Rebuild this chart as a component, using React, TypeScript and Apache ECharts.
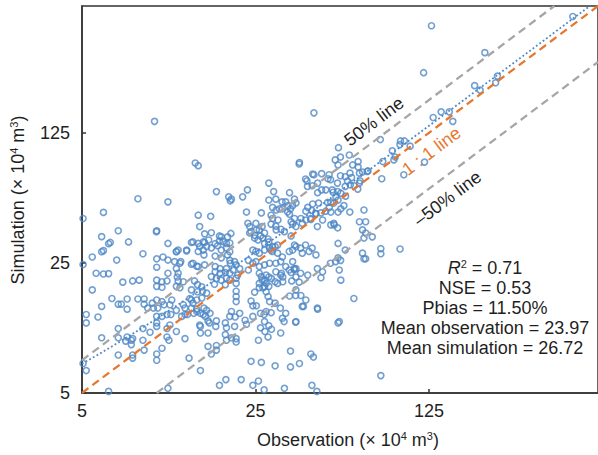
import React, { useEffect, useRef } from "react";
import * as echarts from "echarts";

// ---- data (observation, simulation) in 10^4 m^3 ----
const upperPoints: [number, number][] = [
  [9.8, 144], [128, 470], [119, 263], [210, 337], [475, 527], [191, 224], [201, 212], [236, 252], [232, 232],
  [130, 151], [140, 162], [151, 162], [156, 144], [96, 113], [99.5, 113], [105, 106], [43, 160], [79.6, 115],
  [95.5, 108], [89, 100], [91.4, 92.6], [90.3, 89.4], [81.5, 87.6], [71, 78], [80.7, 70.8], [99, 74.4], [120, 87],
  [54, 104], [59.7, 95], [55, 92.6], [52.4, 89.4], [61.6, 84], [64.8, 87.6], [64.8, 81.8], [60.1, 75.9],
  [57.5, 72.6], [55, 73.5], [61, 71.9], [66, 69], [67.5, 77], [50.2, 70], [49, 70.8], [43, 74.4], [39.8, 70.6],
  [37.6, 86.6], [42.3, 64.9], [40.5, 64.4], [46.2, 61.7], [51, 61.7], [53.6, 60.4], [57.5, 64.4], [62.5, 64.9],
  [53.8, 84], [37.5, 85], [65.6, 75.9], [70.5, 77.5], [42.5, 75], [46.2, 75.4], [49.5, 74.4], [28.3, 67.1],
  [40.3, 69], [44.5, 67.1], [53.5, 67.1], [58.7, 68.8], [60.3, 65.7], [65.6, 67.1], [64.6, 62.3], [23.2, 61.7],
  [29.6, 60.4], [34.3, 59.6], [22.2, 56.6], [44.5, 59.6], [48, 61.7], [51.4, 59.9], [52.7, 56.6], [55.2, 59.2],
  [57.7, 57.1], [14.3, 86], [14.7, 83.2], [17.4, 60.4], [19.5, 56.6], [19.8, 53.9], [8.4, 55.3], [11.1, 53.2],
  [6.1, 46.7], [5.05, 43.3],
];

const middlePoints: [number, number][] = [
  [28.3, 54.4], [30.2, 55], [32, 53.2], [35.9, 55], [20, 55], [42.5, 51.8], [44.9, 52.4], [48.8, 52.8],
  [50.3, 52.8], [53.8, 54.4], [56.8, 50.8], [29.3, 49.7], [30.3, 48.1], [31.2, 48.8], [33.8, 50.8], [34.6, 48.8],
  [40.6, 49.7], [39.9, 47.4], [42.2, 47.8], [43.8, 46], [45.9, 46.4], [48, 47.4], [50.3, 46.9], [53.8, 46.9],
  [55.2, 48.8], [23, 46.9], [26.4, 46.4], [60, 46.9], [68.4, 48.1], [28.9, 45.1], [29.3, 43.3], [30.8, 42.5],
  [34.3, 45.6], [35.9, 43.3], [38.1, 43.3], [39.9, 42.5], [41.8, 42.8], [34.8, 41.6], [35.3, 40.4], [28.9, 40.4],
  [30.2, 39.4], [30.3, 37.6], [31.7, 37.9], [32.7, 36.8], [50.3, 40], [51.9, 40], [65.6, 41.6], [69.5, 41.6],
  [34.8, 34.9], [35.9, 31.2], [67.5, 37.6], [69.5, 36.2], [73.9, 34.5], [68.4, 34], [53.8, 31.8], [67.5, 28.2],
  [68.4, 26.3], [69.5, 26.3], [43.8, 27.6], [35.9, 23.3], [34.8, 22.2], [31.8, 22], [53.8, 26.6],
  [24, 36.8], [25.2, 37.6], [26.2, 34.9], [24.8, 34], [25.6, 33.2], [26.8, 34], [27.2, 31.8], [28.3, 32.4],
  [29.3, 30.6], [28.9, 29.3], [24.4, 29.3], [25.1, 28.8], [25.9, 28.2], [27.2, 29.3], [28.5, 30], [30, 30.6],
  [30.7, 31.2], [29.2, 28.8], [30.7, 28.2], [32.1, 26.9], [34.2, 28.8], [35.3, 29.3], [36.4, 30.6], [38, 30],
  [39.8, 31.2], [38.6, 28.2], [41.1, 28.8], [42.3, 30], [23.4, 25.8], [24.4, 24.9], [25.1, 25.4], [25.9, 23.9],
  [27.2, 24.4], [28.5, 24.9], [30.2, 24.9], [31.6, 25.4], [33.1, 23.9], [34.2, 22.9], [36.4, 23.3], [35.3, 25.4],
  [23.4, 22.9], [25.9, 22], [27.6, 21.5], [29, 20.6], [30.2, 22.4], [31.6, 21.5], [25.9, 19.4], [27.2, 18.6],
  [27.6, 17.5], [28.1, 16.5], [28.5, 15.5], [26.6, 20.2], [30.7, 19.4], [35.8, 23], [36.4, 21], [38, 22],
  [44.4, 23.3], [46.6, 22.4], [50.1, 24.9], [52.6, 25.4], [55.1, 25.8], [54.4, 22.9], [57.5, 29.3], [44.4, 39.2],
  [46.6, 42.5], [51.7, 40.8], [53.6, 38.6], [36.4, 39.2], [38.6, 40.8], [41.7, 43.3], [43.7, 46], [49.6, 49.7],
  [51.7, 52.4], [33.1, 53.2], [35.3, 50.8], [32.1, 48.8], [33.7, 46.9], [36.4, 52.4],
  [23.3, 40.8], [23.7, 39.2], [25.1, 40.8], [25.9, 37.6], [23.7, 36.2], [24.8, 35.2], [26.6, 39.2], [27.2, 36.2],
  [28.1, 33.6], [19.7, 25.8], [20.6, 25.4], [20.9, 24.4], [21.6, 23.3], [20.3, 22.9], [19.7, 22], [21.2, 21.5],
  [14.7, 45.1], [16.5, 44.5], [14.9, 39.2], [9.97, 36.8], [16.6, 36.3], [18.2, 34.5], [19.3, 34.5], [18.5, 32.6],
  [19.1, 31.8], [14, 32.4], [15.4, 32.4], [14.9, 30.6], [15.4, 29.3], [14.7, 28.8], [12, 28.8], [12.2, 29.3],
  [13.2, 29.3], [10, 26.3], [10.6, 26.9], [10, 23.7], [11.8, 25.4], [12.4, 24.9], [14, 24.9], [14.5, 24],
  [7, 37.2], [10, 37.2], [15.6, 35.8], [17.9, 34.9], [19.9, 36], [6, 34.6], [6.5, 32.2], [6.4, 31.7], [7.7, 32.4],
  [11.1, 31.8], [13.8, 32.2], [14.7, 31.8], [15.6, 32.2], [17.2, 31.7], [6, 28.7], [6.1, 29.1], [5.5, 26.9],
  [6.9, 25.9], [8.8, 28], [11.1, 25.9], [12, 28.7], [13.2, 29], [12.5, 25.4], [13.8, 24.6], [5.05, 24.5],
  [5.7, 22], [6.1, 21.8], [6.4, 21.9], [12, 23.3], [12.2, 22], [11.1, 22], [14.7, 23.9], [15.6, 24.4],
  [17.2, 23.9], [18, 23.3], [19.1, 23.3], [19.8, 24.9], [17.2, 22.4], [18, 22], [18.9, 22.2], [15.9, 30.6],
  [16.6, 30.1], [17.6, 30.9], [18.2, 29.3], [19.1, 30.1], [19.7, 28.7], [15.5, 27.6], [17.2, 27.2], [18.2, 26.6],
  [19.3, 27.6], [16.2, 33.2], [17.9, 32.8], [19.7, 32], [80, 29.8], [80, 28], [95.6, 29.7],
];

const lowerPoints: [number, number][] = [
  [36.4, 17.9], [38.6, 14.6], [44.4, 14.3], [54.4, 12.1], [36.4, 12.1], [30, 15.2], [31.5, 14.3], [33.1, 13.4],
  [32.1, 12.6], [32.6, 12.1], [27.6, 13.7], [26.2, 13.4], [27.2, 12.1], [21.6, 13.4], [22.7, 12.3], [24.4, 12.9],
  [19.7, 12.9], [20.6, 11.4], [16.3, 11.9], [17.3, 11.4], [14.9, 11.6], [11.3, 11.6], [10, 11.4], [10, 12.9],
  [13.6, 16.1], [14, 15.2], [13.8, 14.3], [12.8, 14.9], [13, 13.2], [14.5, 13.7], [15.4, 13.2], [15.9, 13.9],
  [5.5, 17.9], [7.3, 19.7], [8, 20], [8.5, 20.2], [10, 20.2], [10.5, 19.8], [11, 20], [10, 18.7], [10.5, 18.5],
  [12.1, 21], [12.2, 20], [12.8, 19.8], [12, 18.7], [12.4, 18.4], [14.2, 20], [14.6, 19.1], [15.2, 18.6],
  [13.8, 17.9], [14.6, 17.5], [15.3, 17.6], [15.9, 17.2], [15.2, 16.2], [14.5, 15.8], [13.8, 15.8], [16.6, 21.1],
  [17.4, 20.6], [18.2, 20.2], [19.1, 20.7], [17.1, 19.2], [18.9, 19.1], [19.7, 20.2], [6.6, 16.1], [7, 15],
  [7.2, 15], [7.6, 16], [8.4, 16], [8.9, 16], [7.6, 14.1], [9.6, 15.2], [9.2, 14.3], [9.7, 14.3], [8.9, 15],
  [10, 15.8], [10.5, 15.5], [10.1, 14.3], [10.7, 14.9], [11.3, 14.9], [11.5, 15.8], [6, 14.6], [5.2, 13.2],
  [5.2, 11.9], [5.8, 12.8], [10, 11.9], [10.5, 12.9], [11, 13.2], [11.4, 13.2], [12, 13.9], [13, 14.3],
  [14.5, 14.1], [15, 13.4], [14.1, 13.4], [13.3, 13.2], [12.6, 12.9], [15.5, 14.3], [16.4, 13.4], [15.7, 12.9],
  [16.1, 12.2], [17.4, 12.2], [18.9, 11.9], [19.1, 11.2], [18.9, 10.3], [19.1, 9.6], [15, 11.4], [15, 10.5],
  [16.1, 10.5], [7, 11.1], [7, 9.9], [7.6, 10], [7.9, 9.6], [7.9, 9.1], [8, 9.8], [7.5, 9.5], [6, 9.9],
  [8.8, 11.1], [9.4, 10.6], [8.8, 9.6], [11, 11.1], [11, 10], [11.2, 9.6], [12, 10.7], [13, 9.8], [10.5, 8.7],
  [7, 8], [8, 8], [8, 7.7], [8.9, 8.5], [10, 8.1], [10, 7.5], [13.5, 7.7], [16.1, 8.9], [17.4, 9], [17.4, 8.5],
  [16.6, 8.1], [15, 6.6], [5.2, 6.6], [6.4, 5.1], [11.1, 5.3], [17.9, 5.5], [19, 5.9], [5.05, 7.2],
  [26.4, 21.1], [27.2, 20.2], [28.3, 21], [26.8, 18.4], [28.3, 18.7], [27.6, 19.4], [25.9, 18.4], [20.9, 20.7],
  [20.9, 19.4], [20.9, 17.6], [20.9, 16.5], [20.9, 15.5], [30, 19.8], [32.2, 21], [32.2, 19.8], [35, 20],
  [37.5, 19.7], [40.6, 21.5], [45.9, 20.8], [24.8, 17.4], [24, 15.6], [24.4, 14.7], [25.2, 14.7], [34.3, 16.6],
  [36.3, 16.7], [38.1, 16.7], [39.9, 15.8], [39, 14.6], [44.5, 14.1], [55.2, 20.2], [62.3, 16.1], [20, 13.7],
  [20.7, 12.8], [27.1, 13.2], [28.9, 13.5], [36.3, 12], [53.8, 11.9], [23, 11.7], [26.2, 11.2], [27.3, 10.7],
  [28.3, 11.5], [29, 11], [28.1, 10], [31.6, 10.5], [25.7, 9.6], [20, 9.9], [20.9, 9.8], [20.9, 9.4],
  [34.6, 8.4], [41.8, 8.1], [42.8, 7.8], [24, 7.4], [26.4, 7.3], [30, 7], [34.6, 6.9], [37.6, 7.2], [21.9, 5.9],
  [24.4, 5.5], [25.7, 5.8], [27.1, 5.2], [32.7, 5.3], [42.2, 5.5], [44.2, 5.1], [80, 6.2],
];

// reference lines
const ONE_TO_ONE: [number, number][] = [[5, 5], [600, 600]];
const PLUS_50: [number, number][] = [[5, 7.5], [400, 600]];
const MINUS_50: [number, number][] = [[10, 5], [600, 300]];

// linear fit (sim = a * obs + b)
const FIT_SLOPE = 1.075;
const FIT_INTERCEPT = 1.8;
const FIT_X = [5, 5.5, 6, 7, 8, 9, 10, 12, 14, 17, 20, 25, 30, 40, 50, 70, 100, 150, 200, 300, 400, 560];

const STATS = [
  "{it|R}{sup|2}{n| = 0.71}",
  "NSE = 0.53",
  "Pbias = 11.50%",
  "Mean observation = 23.97",
  "Mean simulation = 26.72",
];

const FONT = '"Liberation Sans", Arial, Helvetica, sans-serif';
const BLUE = "#4D87C6";
const ORANGE = "#E8772E";
const GRAY = "#A6A6A6";
const INK = "#1f1f1f";

export default function App() {
  const ref = useRef<HTMLDivElement>(null);

  useEffect(() => {
    document.body.style.margin = "0";
    if (!ref.current) return;
    const chart = echarts.init(ref.current, undefined, { renderer: "svg" });

    const fitData = FIT_X.map((x) => [x, FIT_SLOPE * x + FIT_INTERCEPT]);
    const allPoints = [...upperPoints, ...middlePoints, ...lowerPoints];

    const axisCommon = {
      type: "log" as const,
      logBase: 5,
      min: 5,
      max: 600,
      axisLine: { show: true, lineStyle: { color: "#333", width: 1.5 } },
      axisTick: { show: true, inside: true, length: 4, lineStyle: { color: "#333", width: 1.5 } },
      splitLine: { show: false },
      minorTick: { show: false },
    };

    const richSup = {
      n: { fontSize: 18, fontFamily: FONT, fill: INK, lineHeight: 20 },
      it: { fontSize: 18, fontFamily: FONT, fontStyle: "italic", fill: INK, lineHeight: 20 },
      sup: { fontSize: 11, fontFamily: FONT, fill: INK, lineHeight: 11, verticalAlign: "top" },
    };

    const statY = [268, 287.5, 307.5, 327.5, 347.5];

    chart.setOption({
      animation: false,
      backgroundColor: "#ffffff",
      grid: {
        left: 82,
        top: 6,
        width: 518,
        height: 387,
        show: true,
        borderColor: "#333",
        borderWidth: 1.5,
        backgroundColor: "transparent",
        containLabel: false,
      },
      xAxis: {
        ...axisCommon,
        axisLabel: {
          fontSize: 18,
          fontFamily: FONT,
          color: INK,
          margin: 9,
          showMaxLabel: false,
          formatter: (v: number) => String(Math.round(v)),
        },
      },
      yAxis: {
        ...axisCommon,
        axisLabel: {
          fontSize: 18,
          fontFamily: FONT,
          color: INK,
          margin: 12,
          showMaxLabel: false,
          formatter: (v: number) => String(Math.round(v)),
        },
      },
      series: [
        {
          type: "scatter",
          data: allPoints,
          symbol: "circle",
          symbolSize: 6,
          itemStyle: { color: "rgba(255,255,255,0)", borderColor: BLUE, borderWidth: 1.6 },
          z: 2,
          silent: true,
        },
        {
          type: "line",
          data: PLUS_50,
          symbol: "none",
          lineStyle: { color: GRAY, width: 2.3, type: [8, 5] },
          z: 3,
          silent: true,
        },
        {
          type: "line",
          data: MINUS_50,
          symbol: "none",
          lineStyle: { color: GRAY, width: 2.3, type: [8, 5] },
          z: 3,
          silent: true,
        },
        {
          type: "line",
          data: ONE_TO_ONE,
          symbol: "none",
          lineStyle: { color: ORANGE, width: 2.3, type: [8, 5] },
          z: 4,
          silent: true,
        },
        {
          type: "line",
          data: fitData,
          symbol: "none",
          smooth: false,
          lineStyle: { color: BLUE, width: 1.8, type: [1.8, 2.4] },
          z: 5,
          silent: true,
        },
      ],
      graphic: [
        {
          type: "text",
          x: 348,
          y: 440,
          style: {
            text: "Observation (× 10{sup|4} m{sup|3})",
            fontSize: 18,
            fontFamily: FONT,
            fill: INK,
            lineHeight: 20,
            align: "center",
            verticalAlign: "middle",
            rich: richSup,
          },
        },
        {
          type: "text",
          x: 18,
          y: 200,
          rotation: Math.PI / 2,
          style: {
            text: "Simulation (× 10{sup|4} m{sup|3})",
            fontSize: 18,
            fontFamily: FONT,
            fill: INK,
            lineHeight: 20,
            align: "center",
            verticalAlign: "middle",
            rich: richSup,
          },
        },
        {
          type: "text",
          x: 374,
          y: 121.5,
          rotation: 0.643,
          style: { text: "50% line", fontSize: 18, fontFamily: FONT, fill: INK, align: "center", verticalAlign: "middle" },
        },
        {
          type: "text",
          x: 431.5,
          y: 151,
          rotation: 0.643,
          style: { text: "1 : 1 line", fontSize: 18, fontFamily: FONT, fill: ORANGE, align: "center", verticalAlign: "middle" },
        },
        {
          type: "text",
          x: 447.5,
          y: 198.5,
          rotation: 0.643,
          style: { text: "–50% line", fontSize: 18, fontFamily: FONT, fill: INK, align: "center", verticalAlign: "middle" },
        },
        ...STATS.map((t, i) => ({
          type: "text",
          x: 485,
          y: statY[i],
          style: {
            text: t,
            fontSize: 18,
            fontFamily: FONT,
            fill: INK,
            lineHeight: 20,
            align: "center",
            verticalAlign: "middle",
            rich: richSup,
          },
        })),
      ],
    });

    return () => chart.dispose();
  }, []);

  return <div ref={ref} style={{ width: 598, height: 455 }} />;
}
